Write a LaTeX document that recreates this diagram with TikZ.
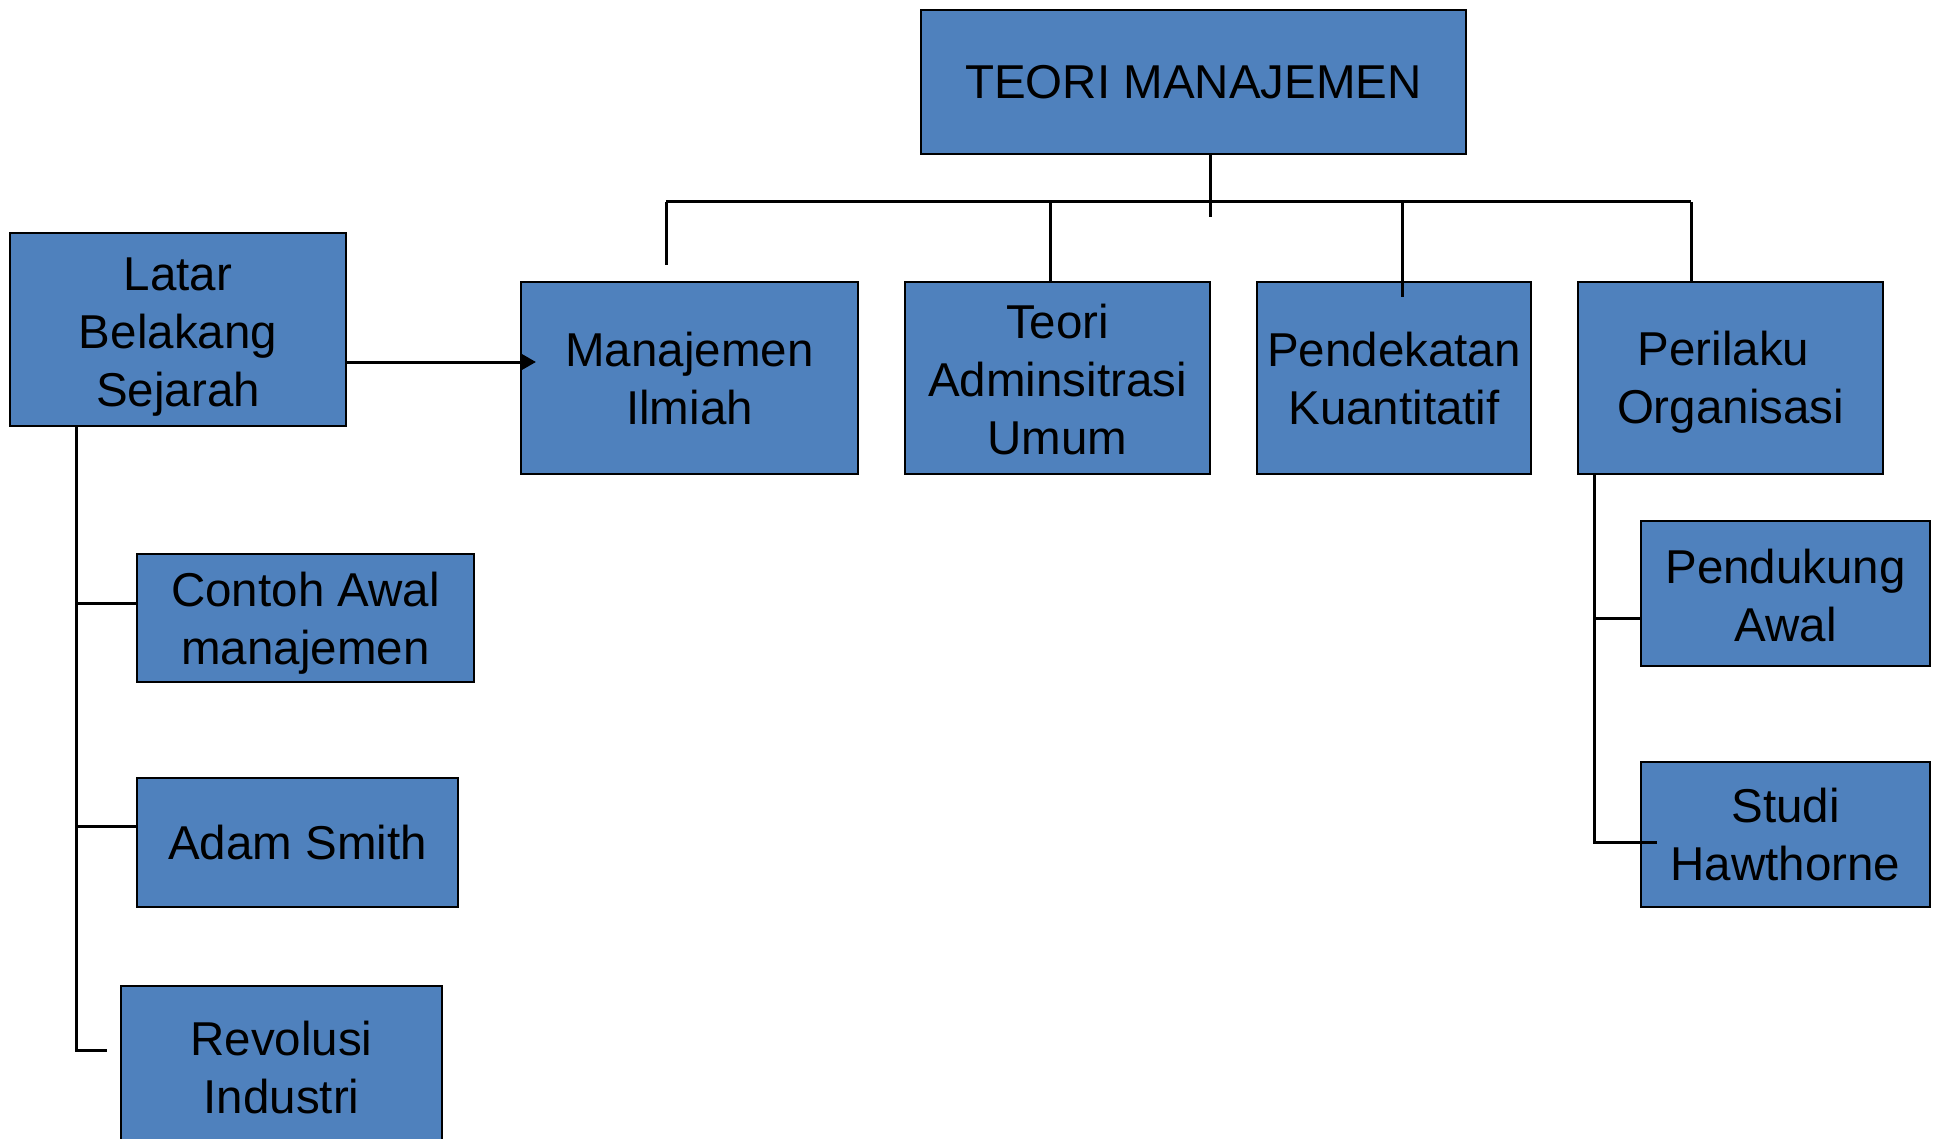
\documentclass[tikz,border=0pt]{standalone}
\usepackage{fontspec}
\setmainfont{Liberation Sans}
\usetikzlibrary{arrows.meta}
\definecolor{boxblue}{HTML}{4F81BD}
\tikzset{
  box/.style={draw=black, line width=2.5pt, fill=boxblue, inner sep=0pt,
    align=center, font=\fontsize{47.5}{58}\selectfont},
  link/.style={draw=black, line width=3pt},
}
% invisible strut on the first line that lowers a label by #1 inside its box
\newcommand\lowerby[1]{\rule{0pt}{\dimexpr 33pt+2\dimexpr#1\relax\relax}}
\begin{document}
\begin{tikzpicture}[x=1pt,y=-1pt]
\useasboundingbox (0,0) rectangle (1942,1139);

% root and first level
\node[box, minimum width=545pt, minimum height=144pt] (root) at (1193.5,82) {TEORI MANAJEMEN};
\node[box, minimum width=336pt, minimum height=193pt] (latar) at (178,329.5) {\lowerby{7pt}Latar\\Belakang\\Sejarah};
\node[box, minimum width=337pt, minimum height=192pt] (ilmiah) at (689.5,378) {\lowerby{1pt}Manajemen\\Ilmiah};
\node[box, minimum width=305pt, minimum height=192pt] (admin) at (1057.5,378) {\lowerby{2.5pt}Teori\\Adminsitrasi\\Umum};
\node[box, minimum width=274pt, minimum height=192pt] (kuant) at (1394,378) {\lowerby{1pt}Pendekatan\\Kuantitatif};
\node[box, minimum width=305pt, minimum height=192pt] (perilaku) at (1730.5,378) {\lowerby{5pt}Perilaku\kern14pt\\Organisasi};

% historical background branch
\node[box, minimum width=337pt, minimum height=128pt] (contoh) at (305.5,618) {\lowerby{6pt}Contoh Awal\\manajemen};
\node[box, minimum width=321pt, minimum height=129pt] (adam) at (297.5,842.5) {Adam Smith};
\node[box, minimum width=321pt, minimum height=164pt] (revolusi) at (281.5,1068) {Revolusi\\Industri};

% organisational behaviour branch
\node[box, minimum width=289pt, minimum height=145pt] (pendukung) at (1785.5,593.5) {\lowerby{2.5pt}Pendukung\\Awal};
\node[box, minimum width=289pt, minimum height=145pt] (studi) at (1785.5,834.5) {Studi\\Hawthorne};

% bus below the root
\coordinate (rootdrop) at (1210,154);
\coordinate (rootend) at (1210,217);
\coordinate (busL) at (666,202);
\coordinate (busR) at (1691,202);
\coordinate (ilmiahend) at (666,265);
\coordinate (kuantend) at (1402,297);

\draw[link] (rootdrop) -- (rootend);
\draw[link] (busL) -- (busR);
\draw[link] (busL) -- (ilmiahend);
\draw[link] (busL -| 1050,0) -- (admin.north -| 1050,0);
\draw[link] (busL -| kuantend) -- (kuantend);
\draw[link] (busR) -- (perilaku.north -| busR);

% arrow into Manajemen Ilmiah
\coordinate (arrowend) at (536,362);
\draw[link, -{Triangle[length=14pt,width=15pt]}] (latar.east |- arrowend) -- (arrowend);

% left tree
\coordinate (ltop) at (76,426);
\coordinate (lbot) at (76,1050);
\coordinate (revend) at (107,1050);
\draw[link] (ltop) -- (lbot) -- (revend);
\draw[link] (ltop |- 0,603) -- (contoh.west |- 0,603);
\draw[link] (ltop |- 0,826) -- (adam.west |- 0,826);

% right tree
\coordinate (rtop) at (1594,474);
\coordinate (rbot) at (1594,842);
\coordinate (studiend) at (1657,842);
\draw[link] (rtop) -- (rbot) -- (studiend);
\draw[link] (rtop |- 0,618) -- (pendukung.west |- 0,618);
\end{tikzpicture}
\end{document}
